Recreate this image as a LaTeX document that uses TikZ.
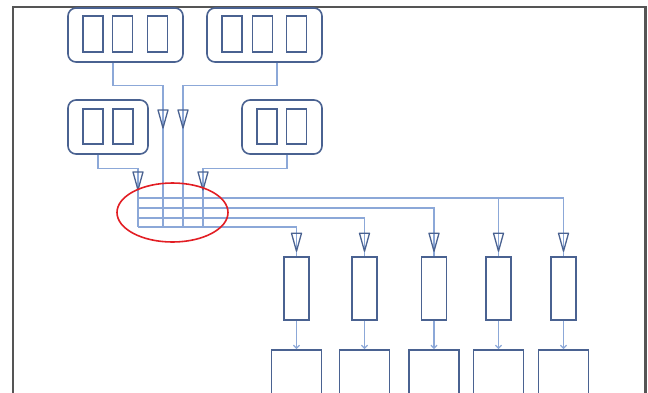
\documentclass[tikz,border=0pt]{standalone}
\usetikzlibrary{arrows.meta,shapes.geometric}
\definecolor{boxblue}{RGB}{74,98,145}
\definecolor{wireblue}{RGB}{140,168,216}
\definecolor{framegray}{RGB}{85,85,85}
\definecolor{ringred}{RGB}{226,30,36}
\tikzset{
  group/.style={draw=boxblue, line width=1.6pt, rounded corners=8pt,
    minimum height=54pt, inner sep=0pt, fill=white},
  cell/.style={draw=boxblue, line width=1.5pt, minimum width=20pt,
    inner sep=0pt},
  stage/.style={draw=boxblue, line width=1.5pt, minimum width=25pt,
    minimum height=63pt, inner sep=0pt},
  sink/.style={draw=boxblue, line width=1.5pt, minimum width=50pt,
    minimum height=60pt, inner sep=0pt, anchor=north},
  wire/.style={draw=wireblue, line width=1.2pt},
  feed/.style={wire, -{Straight Barb[length=3pt,width=6pt]}},
  valve/.pic={\draw[boxblue, line width=1.3pt, line join=round]
    (0,0) -- (-5,-18) -- (5,-18) -- cycle;},
}
\begin{document}
\begin{tikzpicture}[x=1pt,y=-1pt]
\useasboundingbox (0,0) rectangle (648,392);
\clip (0,0) rectangle (648,392);
% outer frame, open at the bottom
\draw[framegray, line width=2.8pt] (13,400) -- (13,7) -- (645.5,7) -- (645.5,400);

% source groups
\node[group, minimum width=115pt] (gA) at (125.5,35) {};
\node[group, minimum width=115pt] (gB) at (264.5,35) {};
\node[group, minimum width=80pt]  (gC) at (108,127) {};
\node[group, minimum width=80pt]  (gD) at (282,127) {};
\node[cell, minimum height=36pt] (a1) at (93,34) {};
\node[cell, minimum height=36pt] (a2) at (122.5,34) {};
\node[cell, minimum height=36pt] (a3) at (157.5,34) {};
\node[cell, minimum height=36pt] (b1) at (232,34) {};
\node[cell, minimum height=36pt] (b2) at (262.5,34) {};
\node[cell, minimum height=36pt] (b3) at (296.5,34) {};
\node[cell, minimum height=35pt] (c1) at (93,126.5) {};
\node[cell, minimum height=35pt] (c2) at (123,126.5) {};
\node[cell, minimum height=35pt] (d1) at (267,126.5) {};
\node[cell, minimum height=35pt] (d2) at (296.5,126.5) {};

% crossbar columns and rows
\coordinate (colC) at (138,227);
\coordinate (colA) at (163,227);
\coordinate (colB) at (183,227);
\coordinate (colD) at (203,227);
\coordinate (row1) at (138,198);
\coordinate (row2) at (138,208);
\coordinate (row3) at (138,218);

% stages and sinks
\foreach \i/\x in {1/296.5,2/364.5,3/434,4/498.5,5/563.5}{
  \node[stage] (t\i) at (\x,288.5) {};
  \node[sink] (s\i) at (\x,349) {};
}

% feeds into the crossbar
\draw[wire] ([xshift=-12.5pt]gA.south) -- ++(0,23) -| (colA);
\draw[wire] ([xshift=12.5pt]gB.south) -- ++(0,23) -| (colB);
\draw[wire] ([xshift=-10pt]gC.south) -- ++(0,14) -| (colC);
\draw[wire] ([xshift=5pt]gD.south) -- ++(0,14) -| (colD);
\pic at (163,128) {valve};
\pic at (183,128) {valve};
\pic at (138,190) {valve};
\pic at (203,190) {valve};

% crossbar outputs
\draw[wire] (row1) -| (t5.north);
\draw[wire] (row1 -| t4.north) -- (t4.north);
\draw[wire] (row2) -| (t3.north);
\draw[wire] (row3) -| (t2.north);
\draw[wire] (colC) -| (t1.north);
\foreach \i in {1,...,5}{
  \pic at ([yshift=5pt]t\i.north) {valve};
  \draw[feed] (t\i.south) -- (s\i.north);
}

% highlighted crossbar
\node[draw=ringred, line width=1.6pt, ellipse, minimum width=111pt,
  minimum height=59pt, inner sep=0pt] (ring) at (172.5,212.5) {};
\end{tikzpicture}
\end{document}
